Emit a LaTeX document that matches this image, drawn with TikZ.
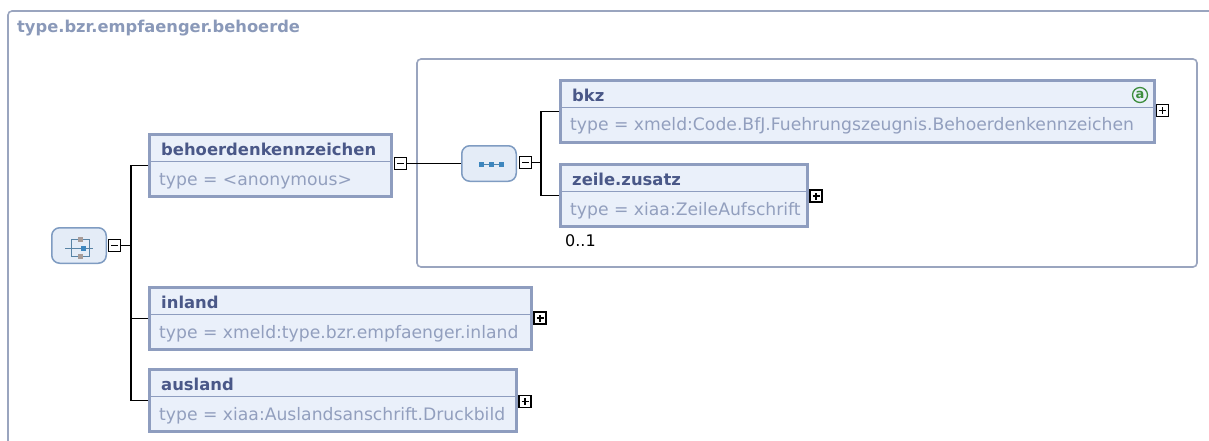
\documentclass[tikz,border=0pt]{standalone}
\usepackage{fontspec}
\setmainfont{DejaVu Sans}
\usetikzlibrary{calc}
\definecolor{boxfill}{HTML}{EAF0FA}
\definecolor{boxline}{HTML}{8E9DBF}
\definecolor{nametxt}{HTML}{4A5888}
\definecolor{typetxt}{HTML}{929FBE}
\definecolor{titletxt}{HTML}{8A99B9}
\definecolor{framec}{HTML}{9AA5BF}
\definecolor{rndfill}{HTML}{E4ECF7}
\definecolor{rndline}{HTML}{7F9CC2}
\definecolor{iconblue}{HTML}{3D86BE}
\definecolor{icongray}{HTML}{A89C98}
\definecolor{attgreen}{HTML}{3E8E3E}
\tikzset{
  elem/.style={draw=boxline, fill=boxfill, line width=3.4pt, inner sep=0pt,
    anchor=north west, minimum height=61.6pt},
  divider/.style={draw=boxline, line width=1.5pt},
  nametext/.style={font=\fontsize{16.4}{18}\selectfont\bfseries, text=nametxt, inner sep=0pt, anchor=base west},
  typetext/.style={font=\fontsize{17.2}{19}\selectfont, text=typetxt, inner sep=0pt, anchor=base west},
  rndnode/.style={draw=rndline, fill=rndfill, line width=1.5pt, rounded corners=8pt,
    inner sep=0pt, anchor=north west, minimum width=54.5pt, minimum height=35.5pt},
  pmbox/.style={draw=black, fill=white, line width=1.9pt, minimum size=12pt, inner sep=0pt},
  minusbox/.style={pmbox, path picture={\draw[line width=1.7pt]
      ([xshift=-3.5pt]path picture bounding box.center) -- ([xshift=3.5pt]path picture bounding box.center);}},
  plusbox/.style={pmbox, path picture={\draw[line width=1.7pt]
      ([xshift=-3.5pt]path picture bounding box.center) -- ([xshift=3.5pt]path picture bounding box.center)
      ([yshift=-3.5pt]path picture bounding box.center) -- ([yshift=3.5pt]path picture bounding box.center);}},
  conn/.style={draw=black, line width=1.95pt},
  frame/.style={draw=framec, line width=1.6pt, rounded corners=4pt},
}
% #1 name, #2 x, #3 y, #4 width, #5 title, #6 type
\newcommand\xelem[6]{%
  \node[elem, minimum width=#4pt] (#1) at (#2,#3) {};
  \draw[divider] ($(#1.north west)+(3,28.5)$) -- ($(#1.north east)+(-3,28.5)$);
  \node[nametext] (#1-n) at ($(#1.north west)+(13,22.5)$) {#5};
  \node[typetext] (#1-t) at ($(#1.north west)+(11,52)$) {#6};
}
\begin{document}
\begin{tikzpicture}[x=1pt,y=-1pt]
\useasboundingbox (0,0) rectangle (1209,441);
\begin{scope}
  \clip (0,0) rectangle (1209,441);
  \draw[frame] (8,11) rectangle (1240,470);
\end{scope}
\node[font=\fontsize{16.3}{18}\selectfont\bfseries, text=titletxt, inner sep=0pt, anchor=base west] (title) at (17,33) {type.bzr.empfaenger.behoerde};

% sequence frame
\draw[frame] (417,59) rectangle (1197,267);

% choice node
\node[rndnode] (choice) at (51,227) {};
\draw[iconblue!60!gray, line width=0.9pt] (71,239) -- (71,256) (71,239) -- (89,239) -- (89,256) -- (71,256)
  (65,248) -- (93,248);
\fill[icongray] (78,236.5) rectangle (83,241.5);
\fill[icongray] (78,253.5) rectangle (83,258.5);
\fill[iconblue] (80.5,245.5) rectangle (85.5,250.5);
\node[minusbox] (chm) at (114.5,245.5) {};

% elements
\xelem{beh}{148}{133}{242}{behoerdenkennzeichen}{type = <anonymous>}
\node[minusbox] (behm) at (400.5,163.5) {};
\xelem{inl}{148}{286}{382}{inland}{type = xmeld:type.bzr.empfaenger.inland}
\node[plusbox] (inlp) at (540,318) {};
\xelem{aus}{148}{368}{367}{ausland}{type = xiaa:Auslandsanschrift.Druckbild}
\node[plusbox] (ausp) at (525,401.5) {};

% sequence node
\node[rndnode] (seq) at (461,145) {};
\draw[iconblue!70!gray, line width=0.9pt] (480,164) -- (502,164);
\fill[iconblue] (478.5,161.5) rectangle (483.5,166.5);
\fill[iconblue] (488.5,161.5) rectangle (493.5,166.5);
\fill[iconblue] (498.5,161.5) rectangle (503.5,166.5);
\node[minusbox] (seqm) at (525.5,162.5) {};

\xelem{bkz}{559}{79}{594}{bkz}{type = xmeld:Code.BfJ.Fuehrungszeugnis.Behoerdenkennzeichen}
\node[plusbox] (bkzp) at (1162.5,110.5) {};
\node[draw=attgreen, line width=1.3pt, circle, inner sep=0pt, minimum size=15pt,
  font=\fontsize{13}{13}\selectfont\bfseries, text=attgreen] (att) at (1140,95) {a};
\xelem{zz}{559}{163}{247}{zeile.zusatz}{type = xiaa:ZeileAufschrift}
\node[plusbox] (zzp) at (816,196) {};
\node[font=\fontsize{16}{18}\selectfont, inner sep=0pt, anchor=base west] (occ) at (565,246) {0..1};

% connectors
\draw[conn] (chm.east) -- ++(9.5,0) coordinate (cj);
\draw[conn] (beh.west) -| (cj);
\draw[conn] (inl.west) -| (cj);
\draw[conn] (aus.west) -| (cj);
\draw[conn] (behm.east) -- (behm.east -| seq.west);
\draw[conn] (seqm.east) -- ++(9,0) coordinate (sj);
\draw[conn] (bkz.west) -| (sj);
\draw[conn] (zz.west) -| (sj);
\end{tikzpicture}
\end{document}
